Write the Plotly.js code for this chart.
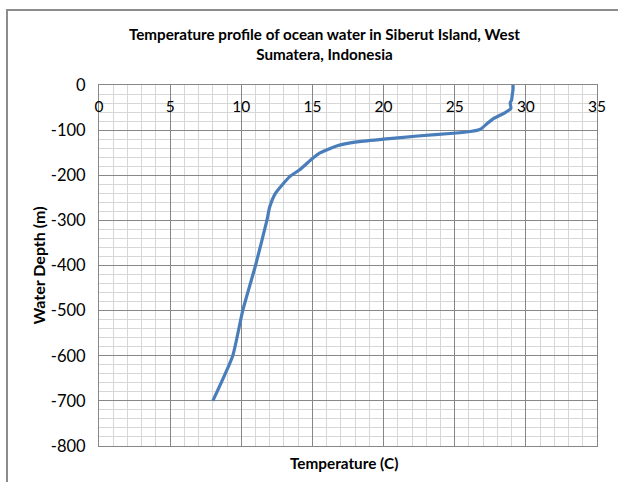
<!DOCTYPE html>
<html>
<head>
<meta charset="utf-8">
<script src="https://cdn.plot.ly/plotly-3.0.1.min.js"></script>
<style>
  html, body { margin: 0; padding: 0; background: #ffffff; }
  #wrap { position: relative; width: 618px; height: 482px; overflow: hidden; }
  #frame { position: absolute; left: 6px; top: 9px; width: 700px; height: 600px;
           border-left: 2px solid #8c8c8c; border-top: 2px solid #8c8c8c; }
  #chart { position: absolute; left: 0; top: 0; width: 618px; height: 482px; }
</style>
</head>
<body>
<div id="wrap">
  <div id="frame"></div>
  <div id="chart"></div>
</div>
<script>
// Temperature (°C)
const temperature = [29.1, 29.1, 29.05, 29.0, 28.9, 28.95, 28.55, 27.75, 27.3, 26.8, 26.1, 24.9, 22.4, 20.0, 18.1, 16.7, 15.5, 15.0, 14.1, 13.4, 12.4, 12.0, 11.8, 11.0, 10.1, 9.4, 8.0];
// Water depth (m), negative downwards
const depth = [0, -10, -20, -33, -40, -52, -61, -74, -85, -98, -103, -107, -113, -120, -126, -135, -151, -163, -188, -203, -240, -270, -300, -400, -500, -600, -700];

const xTicks = [0, 5, 10, 15, 20, 25, 30, 35];
const yTicks = [0, -100, -200, -300, -400, -500, -600, -700, -800];

const FONT = 'Lato, "Open Sans", sans-serif';
const MAJOR = '#878787';
const MINOR = '#d6d6d6';

const trace = {
  x: temperature,
  y: depth,
  type: 'scatter',
  mode: 'lines',
  line: { color: '#4a7ebb', width: 3.2, shape: 'spline', smoothing: 0.5 },
  hoverinfo: 'skip',
  showlegend: false
};

const layout = {
  width: 618,
  height: 482,
  margin: { l: 99, r: 21, t: 85, b: 36, pad: 0 },
  paper_bgcolor: 'rgba(0,0,0,0)',
  plot_bgcolor: '#ffffff',
  font: { family: FONT, size: 15, color: '#000000' },
  title: {
    text: 'Temperature profile of ocean water in Siberut Island, West<br>Sumatera, Indonesia',
    font: { family: FONT, size: 15.2, color: '#000000', weight: 'bold' },
    xref: 'container', x: 0.525, xanchor: 'center',
    yref: 'container', y: 1 - 40 / 482, yanchor: 'middle'
  },
  xaxis: {
    range: [0, 35],
    side: 'top',
    anchor: 'y',
    tickmode: 'array',
    tickvals: xTicks,
    ticktext: xTicks.map(String),
    ticks: '',
    ticklabelstandoff: -34,
    tickfont: { family: FONT, size: 15.5, color: '#000000' },
    showgrid: true,
    gridcolor: MAJOR,
    gridwidth: 1,
    minor: { dtick: 1, showgrid: true, gridcolor: MINOR, gridwidth: 1, ticks: '' },
    showline: true,
    linecolor: MAJOR,
    linewidth: 1,
    mirror: true,
    zeroline: false,
    fixedrange: true
  },
  yaxis: {
    range: [-800, 0],
    tickmode: 'array',
    tickvals: yTicks,
    ticktext: yTicks.map(String),
    ticks: 'outside',
    ticklen: 9,
    tickcolor: 'rgba(0,0,0,0)',
    tickfont: { family: FONT, size: 16.5, color: '#000000' },
    showgrid: true,
    gridcolor: MAJOR,
    gridwidth: 1,
    minor: { dtick: 20, showgrid: true, gridcolor: MINOR, gridwidth: 1, ticks: '' },
    showline: true,
    linecolor: MAJOR,
    linewidth: 1,
    mirror: true,
    zeroline: false,
    fixedrange: true
  },
  annotations: [
    {
      text: 'Temperature (C)',
      xref: 'paper', yref: 'paper',
      x: (344 - 99) / 498, y: 0,
      xanchor: 'center', yanchor: 'middle',
      yshift: -17,
      showarrow: false,
      font: { family: FONT, size: 15.3, color: '#000000', weight: 'bold' }
    },
    {
      text: 'Water Depth (m)',
      xref: 'paper', yref: 'paper',
      x: 0, y: 0.5,
      xanchor: 'center', yanchor: 'middle',
      xshift: -61,
      textangle: -90,
      showarrow: false,
      font: { family: FONT, size: 16, color: '#000000', weight: 'bold' }
    }
  ]
};

Plotly.newPlot('chart', [trace], layout, { displayModeBar: false, staticPlot: true });
</script>
</body>
</html>
